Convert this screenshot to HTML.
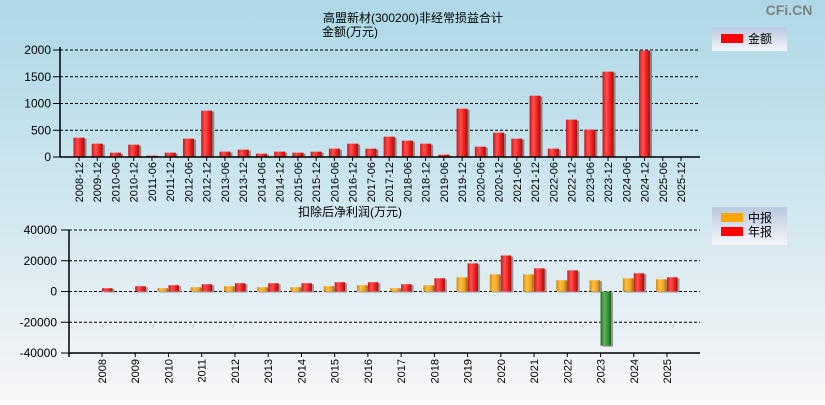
<!DOCTYPE html>
<html><head><meta charset="utf-8">
<style>
html,body{margin:0;padding:0;}
body{width:825px;height:400px;overflow:hidden;font-family:"Liberation Sans","Noto Sans CJK SC",sans-serif;}
svg text{font-family:"Liberation Sans","Noto Sans CJK SC",sans-serif;}
</style></head>
<body>
<svg id="c" width="825" height="400" xmlns="http://www.w3.org/2000/svg">
<defs>
<linearGradient id="bg" x1="0" y1="0" x2="0" y2="1">
<stop offset="0" stop-color="#add8e6"/><stop offset="0.55" stop-color="#d3e8f0"/><stop offset="1" stop-color="#f7f6f8"/></linearGradient>
<linearGradient id="red" x1="0" x2="1"><stop offset="0" stop-color="#c81818"/><stop offset="0.35" stop-color="#ff5050"/><stop offset="0.75" stop-color="#e81818"/><stop offset="1" stop-color="#a01010"/></linearGradient>
<linearGradient id="org" x1="0" x2="1"><stop offset="0" stop-color="#d08a10"/><stop offset="0.35" stop-color="#ffc040"/><stop offset="0.75" stop-color="#f0a020"/><stop offset="1" stop-color="#a07010"/></linearGradient>
<linearGradient id="grn" x1="0" x2="1"><stop offset="0" stop-color="#207020"/><stop offset="0.35" stop-color="#60b060"/><stop offset="0.75" stop-color="#309030"/><stop offset="1" stop-color="#1a5a1a"/></linearGradient>
<linearGradient id="leg" x1="0" y1="0" x2="0" y2="1"><stop offset="0" stop-color="#b8c8e0"/><stop offset="1" stop-color="#f6f6fa"/></linearGradient>
</defs>
<rect width="825" height="400" fill="url(#bg)"/>
<text x="789" y="15" font-size="14" font-weight="bold" fill="#808080" text-anchor="middle">CFi.CN</text>
<text x="323" y="22" font-size="12" fill="#000">高盟新材(300200)非经常损益合计</text>
<text x="322" y="36" font-size="12" fill="#000">金额(万元)</text>
<text x="298" y="216" font-size="12" fill="#000">扣除后净利润(万元)</text>
<g>
<rect x="712" y="27" width="75" height="24" fill="url(#leg)"/>
<rect x="721" y="34" width="22" height="9" fill="#f00"/>
<text x="748" y="43" font-size="12">金额</text>
</g>
<g>
<rect x="712" y="207" width="75" height="38" fill="url(#leg)"/>
<rect x="721" y="213" width="22" height="9" fill="#ffa500"/>
<text x="748" y="222" font-size="12">中报</text>
<rect x="721" y="227" width="22" height="9" fill="#f00"/>
<text x="748" y="236" font-size="12">年报</text>
</g>
<g id="top"></g><g id="bot"></g>
</svg>
<script>
const topCategories=["2008-12","2009-12","2010-06","2010-12","2011-06","2011-12","2012-06","2012-12","2013-06","2013-12","2014-06","2014-12","2015-06","2015-12","2016-06","2016-12","2017-06","2017-12","2018-06","2018-12","2019-06","2019-12","2020-06","2020-12","2021-06","2021-12","2022-06","2022-12","2023-06","2023-12","2024-06","2024-12","2025-06","2025-12"];
const topValues=[361,249,81,230,25,81,343,866,100,137,62,100,81,100,156,249,156,380,305,249,44,903,193,455,343,1146,156,698,511,1595,0,1988,0,0];
const topTicks=[0,500,1000,1500,2000];
const botCategories=["2008","2009","2010","2011","2012","2013","2014","2015","2016","2017","2018","2019","2020","2021","2022","2023","2024","2025"];
const interimValues=[0,0,2150,2800,3440,2800,2800,3440,4090,2150,4090,9250,11180,11180,7310,7310,8600,7960];
const annualValues=[2150,3440,4090,4730,5380,5380,5380,6020,6020,4730,8600,18280,23440,15050,13760,-35270,11830,9250];
const botTicks=[-40000,-20000,0,20000,40000];

const NS="http://www.w3.org/2000/svg";
function mk(tag,attrs,parent){const e=document.createElementNS(NS,tag);for(const k in attrs)e.setAttribute(k,attrs[k]);parent.appendChild(e);return e;}
// top chart
const T=document.getElementById('top');
const tX0=60,tX1=700,tY0=157,tY1=50;
const ty=v=>tY0-(v-0)/(2000-0)*(tY0-tY1);
const tx=i=>79+(681-79)/(topCategories.length-1)*i;
topTicks.forEach(v=>{
  const y=ty(v);
  if(v!==0){const g=mk('line',{x1:tX0,x2:tX1,y1:y,y2:y,stroke:'#000','stroke-dasharray':'3,2','stroke-width':1},T);
  
  }
  mk('line',{x1:tX0-7,x2:tX0,y1:y,y2:y,stroke:'#000'},T);
  const t=mk('text',{x:tX0-9,y:y+4,'font-size':12,'text-anchor':'end'},T);t.textContent=v;
  
  
});
topValues.forEach((v,i)=>{
  if(v<=0)return;
  const x=tx(i)-5.5,y=ty(v);
  mk('rect',{x:x+2,y:y+1,width:11,height:tY0-y-1,fill:'#888'},T);
  const r=mk('rect',{x:x,y:y,width:11,height:tY0-y,fill:'url(#red)'},T);
  
  
});
mk('line',{x1:tX0,x2:tX0,y1:tY1-3,y2:tY0,stroke:'#000','stroke-width':1.5},T);
mk('line',{x1:tX0,x2:tX1,y1:tY0,y2:tY0,stroke:'#000','stroke-width':1.5},T);
topCategories.forEach((c,i)=>{
  const x=tx(i);
  mk('line',{x1:x,x2:x,y1:tY0,y2:tY0+4,stroke:'#000'},T);
  const t=mk('text',{x:0,y:0,'font-size':11,'text-anchor':'end',transform:`translate(${x+4},${tY0+5}) rotate(-90)`},T);t.textContent=c;
  
  
});
// bottom chart
const B=document.getElementById('bot');
const bX0=69,bX1=700,bY0=353,bY1=230;
const by=v=>bY0-(v+40000)/80000*(bY0-bY1);
const bx=i=>102+(667-102)/17*i;
botTicks.forEach(v=>{
  const y=by(v);
  if(v!==-40000){const g=mk('line',{x1:bX0,x2:bX1,y1:y,y2:y,stroke:'#000','stroke-dasharray':'3,2'},B);
  
  }
  mk('line',{x1:bX0-8,x2:bX0,y1:y,y2:y,stroke:'#000'},B);
  const t=mk('text',{x:bX0-12,y:y+4,'font-size':12,'text-anchor':'end'},B);t.textContent=v;
  
  
});
function bar(cx,v,fill,name){
  if(v===0)return;
  const y0=by(0),y=by(v);
  const top=Math.min(y,y0),h=Math.abs(y-y0);
  mk('rect',{x:cx+2,y:top+1,width:10.5,height:h,fill:'#999'},B);
  const r=mk('rect',{x:cx,y:top,width:10.5,height:h,fill:fill},B);
  
  
}
botCategories.forEach((c,i)=>{
  const x=bx(i);
  bar(x-11,interimValues[i],'url(#org)','bar-interim-'+c);
  bar(x,annualValues[i],annualValues[i]<0?'url(#grn)':'url(#red)','bar-annual-'+c);
});
mk('line',{x1:bX0,x2:bX0,y1:bY1,y2:bY0+4,stroke:'#000','stroke-width':1.5},B);
mk('line',{x1:bX0,x2:bX1,y1:bY0,y2:bY0,stroke:'#000','stroke-width':1.5},B);
botCategories.forEach((c,i)=>{
  const x=bx(i);
  mk('line',{x1:x,x2:x,y1:bY0,y2:bY0+4,stroke:'#000'},B);
  const t=mk('text',{x:0,y:0,'font-size':11,'text-anchor':'end',transform:`translate(${x+4},${bY0+6}) rotate(-90)`},B);t.textContent=c;
  
  
});
</script>
</body></html>
